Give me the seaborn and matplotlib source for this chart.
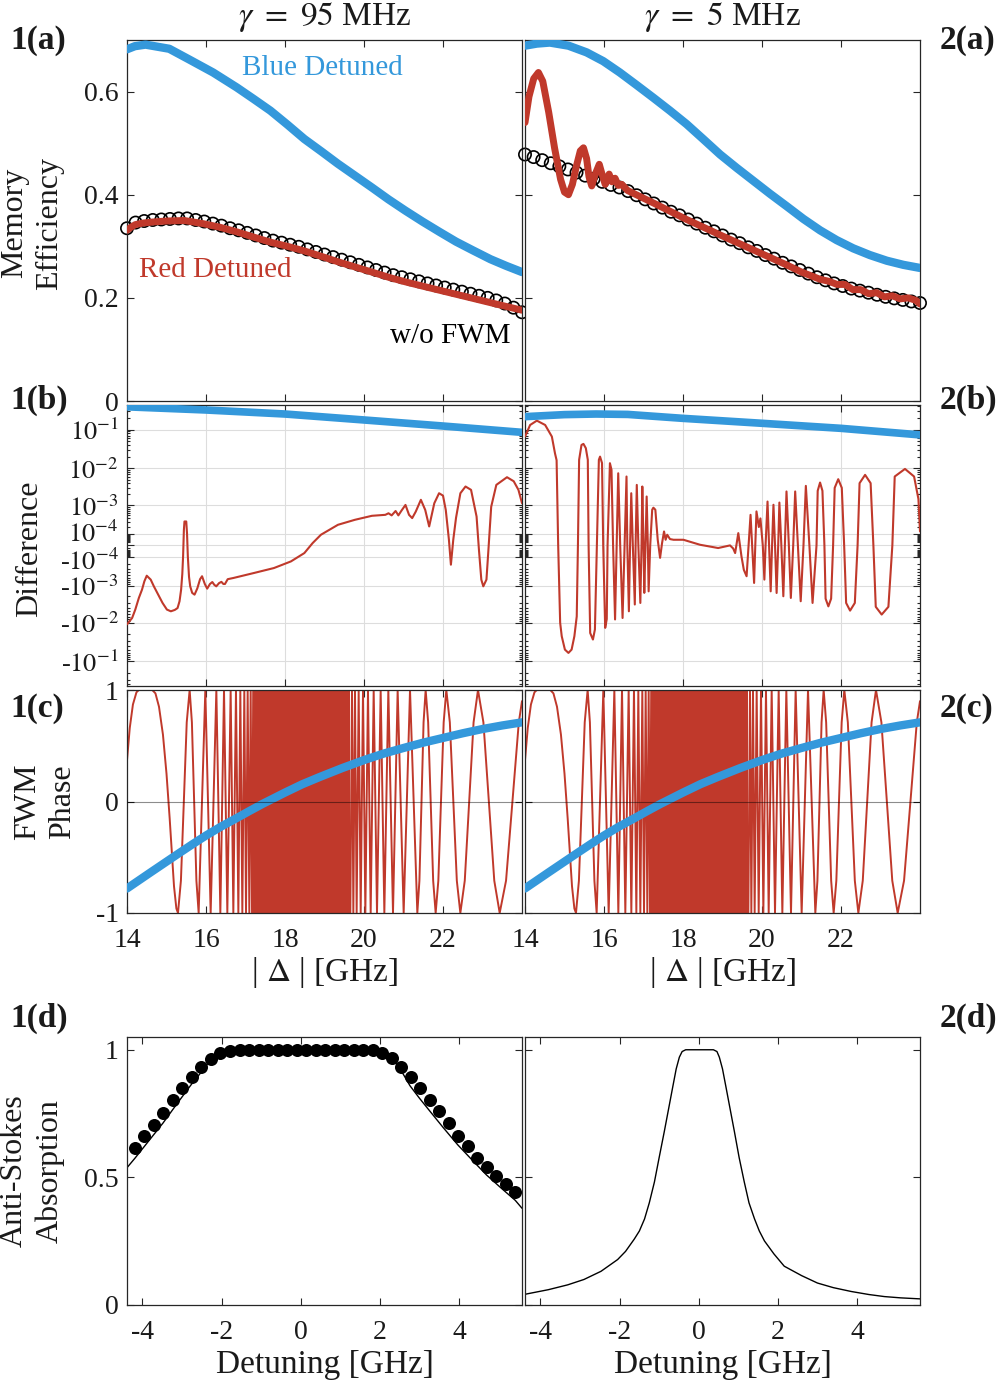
import numpy as np
import matplotlib
matplotlib.use("Agg")
import matplotlib.pyplot as plt
import matplotlib.transforms as mtransforms
import seaborn as sns
from matplotlib.ticker import FixedLocator, FixedFormatter, NullFormatter

# ---------------- data ----------------
BLUE = "#3498DB"
RED = "#C0392B"

# (a) memory efficiency, gamma = 95 MHz
eff95_x = [14.0, 14.2, 14.47, 15.07, 15.58, 16.18, 16.78, 17.2, 17.63, 18.06, 18.49, 18.92, 19.34, 19.77,
           20.20, 20.62, 21.05, 21.48, 21.91, 22.33, 22.76, 23.2, 23.6, 24.0]
eff95_blue = [0.682, 0.688, 0.691, 0.683, 0.662, 0.637, 0.608, 0.586, 0.563, 0.536, 0.508, 0.484, 0.460, 0.437,
              0.414, 0.391, 0.369, 0.348, 0.328, 0.309, 0.292, 0.275, 0.262, 0.250]
eff95_red_x = [14.0, 14.1, 14.21, 14.4, 14.64, 15.0, 15.45, 15.92, 16.35, 16.78, 17.2, 17.63, 18.06, 18.49,
               18.9, 19.34, 19.77, 20.20, 20.62, 21.05, 21.47, 21.90, 22.33, 22.76, 23.4, 24.0]
eff95_red = [0.331, 0.337, 0.342, 0.345, 0.347, 0.349, 0.350, 0.344, 0.337, 0.328, 0.318, 0.308, 0.300, 0.291,
             0.281, 0.270, 0.260, 0.250, 0.240, 0.231, 0.223, 0.215, 0.207, 0.199, 0.187, 0.176]
eff95_nofwm = [0.335, 0.346, 0.349, 0.351, 0.352, 0.353, 0.354, 0.354, 0.351, 0.348, 0.344, 0.340,
               0.335, 0.331, 0.326, 0.321, 0.316, 0.311, 0.307, 0.303, 0.299, 0.294, 0.289, 0.284,
               0.279, 0.274, 0.269, 0.264, 0.259, 0.254, 0.249, 0.244, 0.240, 0.236, 0.232, 0.228,
               0.224, 0.220, 0.216, 0.212, 0.208, 0.204, 0.200, 0.195, 0.189, 0.181, 0.172]

# (a) memory efficiency, gamma = 5 MHz
eff5_x = [14.0, 14.3, 14.63, 15.1, 15.56, 15.98, 16.40, 16.82, 17.25, 17.67, 18.09, 18.51, 18.94, 19.36,
          19.78, 20.2, 20.62, 21.05, 21.47, 21.89, 22.31, 22.73, 23.16, 23.58, 24.0]
eff5_blue = [0.689, 0.693, 0.695, 0.689, 0.676, 0.659, 0.637, 0.613, 0.588, 0.563, 0.537, 0.508, 0.478, 0.452,
             0.427, 0.402, 0.378, 0.353, 0.331, 0.312, 0.296, 0.283, 0.272, 0.264, 0.258]
eff5_red = [(14.00, 0.54), (14.10, 0.59), (14.22, 0.625), (14.34, 0.637), (14.45, 0.62), (14.60, 0.56),
            (14.75, 0.49), (14.90, 0.43), (15.00, 0.405), (15.10, 0.400), (15.20, 0.42), (15.30, 0.455),
            (15.40, 0.485), (15.48, 0.491), (15.56, 0.47), (15.62, 0.435), (15.69, 0.417), (15.78, 0.44),
            (15.88, 0.459), (15.95, 0.44), (16.03, 0.42), (16.13, 0.44), (16.20, 0.425), (16.28, 0.432),
            (16.36, 0.418), (16.45, 0.420), (16.60, 0.408), (17.25, 0.384), (18.09, 0.352), (18.94, 0.322),
            (19.78, 0.293), (20.62, 0.264), (21.00, 0.250), (21.47, 0.236), (21.70, 0.232), (21.90, 0.226),
            (22.10, 0.226), (22.30, 0.216), (22.50, 0.216), (22.70, 0.208), (22.90, 0.210), (23.10, 0.202),
            (23.30, 0.204), (23.50, 0.198), (23.70, 0.200), (23.90, 0.195), (24.00, 0.188)]
eff5_nofwm = [0.478, 0.473, 0.467, 0.461, 0.455, 0.449, 0.443, 0.437, 0.431, 0.425, 0.419, 0.414,
              0.407, 0.399, 0.391, 0.383, 0.375, 0.367, 0.360, 0.352, 0.344, 0.336, 0.329, 0.321,
              0.313, 0.306, 0.298, 0.291, 0.283, 0.276, 0.268, 0.261, 0.254, 0.247, 0.240, 0.234,
              0.228, 0.223, 0.218, 0.214, 0.210, 0.206, 0.202, 0.199, 0.196, 0.193, 0.190]

# (b) difference
diff95_blue = [(14.0, 0.39), (16.0, 0.323), (18.0, 0.254), (20.0, 0.178), (22.0, 0.124), (24.0, 0.085)]
diff5_blue = [(14.0, 0.217), (15.0, 0.245), (15.8, 0.254), (16.6, 0.248), (18.0, 0.196), (20.0, 0.146),
              (22.0, 0.108), (24.0, 0.073)]
diff95_red = [
    (14.00, -1.1e-2), (14.13, -7.5e-3), (14.21, -4.5e-3), (14.30, -2.2e-3), (14.38, -1.3e-3), (14.44, -7.5e-4),
    (14.50, -5.1e-4), (14.60, -6.7e-4), (14.68, -1.05e-3), (14.79, -1.79e-3), (14.90, -3.0e-3), (15.01, -4.5e-3),
    (15.11, -5.0e-3), (15.21, -4.6e-3), (15.28, -4.1e-3), (15.33, -2.7e-3), (15.37, -1.3e-3), (15.40, -4.5e-4),
    (15.42, -9.2e-5), (15.44, 1.5e-4), (15.455, 3.17e-4), (15.50, 3.17e-4), (15.52, 1.0e-4), (15.54, -9.2e-5),
    (15.57, -5.5e-4), (15.60, -1.05e-3), (15.65, -1.6e-3), (15.71, -1.79e-3), (15.78, -1.2e-3), (15.85, -6.5e-4),
    (15.90, -5.3e-4), (15.97, -9.0e-4), (16.03, -1.22e-3), (16.10, -9.0e-4), (16.16, -7.9e-4), (16.21, -9.5e-4),
    (16.26, -1.05e-3), (16.33, -8.5e-4), (16.39, -7.8e-4), (16.44, -9.0e-4), (16.48, -9.0e-4), (16.55, -6.5e-4),
    (16.69, -6.0e-4), (17.21, -4.2e-4), (17.72, -2.86e-4), (18.15, -1.6e-4), (18.49, -5.8e-5), (18.70, 1.5e-5),
    (18.91, 8.9e-5), (19.34, 2.42e-4), (19.77, 3.61e-4), (20.20, 4.85e-4), (20.54, 5.2e-4), (20.62, 5.8e-4),
    (20.70, 5.0e-4), (20.80, 6.8e-4), (20.87, 5.0e-4), (20.95, 7.0e-4), (21.05, 1.02e-3), (21.14, 5.2e-4),
    (21.22, 4.1e-4), (21.31, 6.5e-4), (21.44, 1.42e-3), (21.55, 7.3e-4), (21.65, 2.1e-4), (21.78, 1.14e-3),
    (21.90, 2.15e-3), (22.00, 1.85e-3), (22.07, 7.3e-4), (22.15, 4e-5), (22.20, -2.16e-4), (22.26, 4e-5),
    (22.33, 4.2e-4), (22.44, 2.15e-3), (22.57, 3.26e-3), (22.71, 2.65e-3), (22.85, 4.6e-4), (22.91, -3e-5),
    (22.97, -6.7e-4), (23.02, -1.05e-3), (23.10, -6.7e-4), (23.15, -3e-5), (23.22, 9e-4), (23.35, 3.6e-3),
    (23.62, 5.75e-3), (23.79, 4.5e-3), (23.91, 2.65e-3), (24.00, 1.14e-3)]
diff5_red = [
    (14.00, 6.6e-2), (14.13, 0.132), (14.30, 0.171), (14.51, 0.132), (14.68, 6.6e-2), (14.76, 2.4e-2),
    (14.80, 1.6e-2), (14.84, 0.0), (14.89, -1.0e-2), (14.93, -2.25e-2), (15.01, -5.0e-2), (15.10, -6.1e-2),
    (15.18, -5.0e-2), (15.25, -2.25e-2), (15.31, -6.8e-3), (15.34, 0.0), (15.37, 1.64e-2), (15.43, 4.0e-2),
    (15.48, 4.26e-2), (15.54, 3.3e-2), (15.59, 1.64e-2), (15.61, 0.0), (15.65, -1.85e-2), (15.72, -2.74e-2),
    (15.77, -1.5e-2), (15.82, 0.0), (15.87, 1.64e-2), (15.90, 1.99e-2), (15.95, 1.35e-2), (15.98, 0.0),
    (16.03, -1.36e-2), (16.07, -8.0e-3), (16.09, 0.0), (16.15, 1.34e-2), (16.19, 9.0e-3), (16.23, 0.0),
    (16.28, -8.2e-3), (16.32, 0.0), (16.36, 7.3e-3), (16.41, 0.0), (16.47, -7.5e-3), (16.52, 0.0),
    (16.57, 6.0e-3), (16.59, 0.0), (16.63, -5.0e-3), (16.66, 0.0), (16.69, 2.15e-3), (16.73, 0.0),
    (16.78, -3.3e-3), (16.80, 0.0), (16.83, 3.6e-3), (16.87, 0.0), (16.92, -3.0e-3), (16.95, 0.0),
    (16.97, 3.26e-3), (17.00, 0.0), (17.02, -1.6e-3), (17.05, 0.0), (17.08, 1.75e-3), (17.11, 0.0),
    (17.13, -1.45e-3), (17.17, 0.0), (17.22, 7.4e-4), (17.25, 8.5e-4), (17.30, 7.4e-4), (17.36, 4e-5),
    (17.42, -1.1e-4), (17.47, 1.5e-5), (17.52, 1.3e-4), (17.56, 4e-5), (17.60, 8.9e-5), (17.67, 4.6e-5),
    (17.76, 4.0e-5), (18.01, 4.0e-5), (18.43, 4e-6), (18.89, -1.7e-5), (19.19, 0.0), (19.27, -2e-5),
    (19.32, -5.8e-5), (19.40, 1.08e-4), (19.48, -9.2e-5), (19.54, -3.3e-4), (19.61, -5.3e-4), (19.66, 0.0),
    (19.71, 5.2e-4), (19.75, 0.0), (19.80, -8.4e-4), (19.83, 0.0), (19.86, 6.6e-4), (19.92, 2e-4),
    (19.96, 4e-4), (20.02, 0.0), (20.06, -6.7e-4), (20.09, 0.0), (20.14, 1.27e-3), (20.18, 0.0),
    (20.22, -1.45e-3), (20.255, 0.0), (20.29, 1.03e-3), (20.33, 0.0), (20.37, -1.61e-3), (20.41, 0.0),
    (20.44, 1.19e-3), (20.49, 0.0), (20.54, -1.98e-3), (20.58, 0.0), (20.62, 2.4e-3), (20.68, 0.0),
    (20.73, -2.2e-3), (20.79, 0.0), (20.84, 2.4e-3), (20.91, 0.0), (20.98, -2.7e-3), (21.05, 0.0),
    (21.11, 3.39e-3), (21.20, 0.0), (21.28, -3.0e-3), (21.38, 0.0), (21.41, 2.5e-3), (21.47, 4.16e-3),
    (21.53, 2.5e-3), (21.58, 0.0), (21.61, -2.3e-3), (21.68, -3.7e-3), (21.75, -2.3e-3), (21.80, 0.0),
    (21.84, 3.0e-3), (21.93, 5.1e-3), (22.02, 3.0e-3), (22.08, 0.0), (22.13, -3.0e-3), (22.23, -4.8e-3),
    (22.35, -3.0e-3), (22.42, 0.0), (22.47, 4.0e-3), (22.61, 6.63e-3), (22.75, 4.0e-3), (22.82, 0.0),
    (22.88, -3.8e-3), (23.03, -6.1e-3), (23.20, -3.8e-3), (23.30, 0.0), (23.36, 6.0e-3), (23.62, 9.5e-3),
    (23.85, 6.0e-3), (23.96, 1.5e-3), (24.00, 1.3e-4)]

# (c) FWM phase (same for both columns)
phase_blue = [(14.0, -0.78), (14.6, -0.635), (15.29, -0.47), (15.65, -0.385), (16.0, -0.305), (16.38, -0.225),
              (16.77, -0.15), (17.1, -0.085), (17.44, -0.02), (17.72, 0.03), (18.0, 0.08), (18.44, 0.155),
              (18.88, 0.22), (19.45, 0.30), (20.02, 0.374), (20.5, 0.43), (21.0, 0.48), (21.5, 0.528),
              (22.0, 0.57), (22.5, 0.612), (23.0, 0.65), (23.5, 0.682), (24.0, 0.71)]
phase_red = [
    (14.00, 0.37), (14.07, 0.66), (14.15, 0.87), (14.24, 0.98), (14.30, 1.0), (14.64, 1.0), (14.72, 0.97),
    (14.81, 0.85), (14.91, 0.60), (15.00, 0.25), (15.08, -0.15), (15.19, -0.76), (15.25, -0.96), (15.291, -1.0),
    (15.365, -0.71), (15.439, 0.0), (15.512, 0.71), (15.586, 1.0),
    (15.643, 0.71), (15.700, 0.0), (15.757, -0.71), (15.814, -1.0),
    (15.983, 1.0), (16.118, -1.0), (16.262, 1.0), (16.363, -1.0), (16.456, 1.0), (16.540, -1.0),
    (16.624, 1.0), (16.692, -1.0), (16.759, 1.0), (16.819, -1.0), (16.869, 1.0), (16.920, -1.0),
    (16.970, 1.0), (17.013, -1.0), (17.055, 1.0), (17.097, -1.0), (17.131, 1.0), (17.165, -1.0),
    (17.195, 1.0), (17.222, -1.0),
    (19.654, -1.0), (19.696, 1.0), (19.730, -1.0), (19.772, 1.0), (19.814, -1.0), (19.865, 1.0),
    (19.916, -1.0), (19.975, 1.0), (20.034, -1.0), (20.101, 1.0), (20.169, -1.0), (20.245, 1.0),
    (20.329, -1.0), (20.422, 1.0), (20.515, -1.0), (20.616, 1.0), (20.734, -1.0), (20.852, 1.0),
    (21.004, -1.0), (21.165, 1.0), (21.350, -1.0),
    (21.403, -0.71), (21.456, 0.0), (21.508, 0.71), (21.561, 1.0),
    (21.624, 0.71), (21.688, 0.0), (21.751, -0.71), (21.814, -1.0),
    (21.882, -0.71), (21.949, 0.0), (22.017, 0.71), (22.084, 1.0),
    (22.173, 0.71), (22.262, 0.0), (22.350, -0.71), (22.439, -1.0),
    (22.551, -0.71), (22.663, 0.0), (22.774, 0.71), (22.886, 1.0),
    (23.023, 0.71), (23.161, 0.0), (23.298, -0.71), (23.435, -1.0),
    (23.596, -0.71), (23.758, 0.0), (23.919, 0.71), (24.0, 0.90)]
phase_dense_band = [17.20, 19.65]   # region where the red oscillation is unresolved

# (d) anti-Stokes absorption
abs95_line = [(-4.39, 0.538), (-4.19, 0.575), (-3.83, 0.645), (-3.48, 0.713), (-3.12, 0.79), (-2.76, 0.865),
              (-2.5, 0.915), (-2.29, 0.958), (-2.15, 0.98), (-2.05, 0.993), (-1.85, 1.0), (1.85, 1.0),
              (2.08, 0.993), (2.2, 0.982), (2.33, 0.964), (2.55, 0.915), (2.76, 0.859), (3.0, 0.81),
              (3.26, 0.76), (3.6, 0.695), (3.97, 0.627), (4.33, 0.568), (4.69, 0.51), (5.05, 0.46),
              (5.42, 0.41), (5.59, 0.379)]
abs95_dots = [0.617, 0.661, 0.707, 0.753, 0.802, 0.849, 0.892, 0.934, 0.964, 0.987, 0.997,
              1.0, 1.0, 1.0, 1.0, 1.0, 1.0, 1.0, 1.0, 1.0, 1.0, 1.0, 1.0, 1.0, 1.0, 1.0,
              0.987, 0.968, 0.934, 0.894, 0.852, 0.803, 0.760, 0.713, 0.664, 0.621, 0.577, 0.542,
              0.506, 0.473, 0.443]
abs5_line = [(-4.39, 0.042), (-3.8, 0.06), (-3.31, 0.079), (-2.9, 0.10), (-2.47, 0.132), (-2.05, 0.178),
             (-1.85, 0.21), (-1.63, 0.258), (-1.5, 0.29), (-1.37, 0.337), (-1.25, 0.40), (-1.12, 0.482),
             (-1.0, 0.578), (-0.87, 0.68), (-0.76, 0.77), (-0.66, 0.852), (-0.57, 0.925), (-0.49, 0.971),
             (-0.42, 0.993), (-0.33, 1.0), (0.37, 1.0), (0.46, 0.993), (0.52, 0.971), (0.60, 0.925),
             (0.69, 0.852), (0.79, 0.77), (0.90, 0.68), (1.02, 0.578), (1.15, 0.482), (1.27, 0.40),
             (1.41, 0.337), (1.53, 0.29), (1.66, 0.251), (1.9, 0.20), (2.16, 0.152), (2.6, 0.115),
             (3.0, 0.086), (3.4, 0.068), (3.85, 0.053), (4.3, 0.041), (4.69, 0.033), (5.1, 0.028),
             (5.59, 0.024)]

phase_xticks = [14, 16, 18, 20, 22]
det_xticks = [-4, -2, 0, 2, 4]

# ---------------- style ----------------
sns.set_theme(style="white")
plt.rcParams['font.family'] = ['Liberation Serif', 'DejaVu Serif']
plt.rcParams['mathtext.fontset'] = 'stix'
plt.rcParams['axes.unicode_minus'] = False
TXT = '#1a1a1a'
EDGE = '#262626'
TICKSIZE = 20

W, H = 997, 1384
fig = plt.figure(figsize=(W / 100, H / 100), dpi=100)
fig.patch.set_facecolor('white')


def px_axes(x0, y0, x1, y1):
    return fig.add_axes([x0 / W, 1 - y1 / H, (x1 - x0) / W, (y1 - y0) / H])


def ftext(x, y, s, **kw):
    fig.text(x / W, 1 - y / H, s, color=kw.pop('color', TXT), **kw)


def style(ax, xlim, ylim):
    ax.set_xlim(*xlim)
    ax.set_ylim(*ylim)
    ax.set_facecolor('white')
    for s in ax.spines.values():
        s.set_visible(True)
        s.set_color(EDGE)
        s.set_linewidth(0.9)
    ax.tick_params(which='both', direction='in', top=True, right=True, bottom=True, left=True,
                   color=EDGE, labelcolor=TXT, labelsize=TICKSIZE, width=0.8)
    ax.tick_params(which='major', length=5, pad=6)
    ax.tick_params(which='minor', length=2.5)
    ax.set_xlabel('')
    ax.set_ylabel('')


def xy(pairs):
    return np.array([p[0] for p in pairs]), np.array([p[1] for p in pairs])


def line(ax, x, y, color, lw, z=3):
    sns.lineplot(x=np.asarray(x), y=np.asarray(y), ax=ax, color=color, linewidth=lw,
                 estimator=None, sort=False, zorder=z)


COLS = [(127, 522), (525, 920)]
ROW_A = (40, 401)
ROW_B = (405, 686)
ROW_C = (690, 913)
ROW_D = (1037, 1305)

C0 = 1e-4


def fwd(v):
    v = np.asarray(v, dtype=float)
    return np.sign(v) * np.log10(1 + np.abs(v) / C0)


def inv(v):
    v = np.asarray(v, dtype=float)
    return np.sign(v) * C0 * (10 ** np.abs(v) - 1)


btick_vals = [-1e-1, -1e-2, -1e-3, -1e-4, 0, 1e-4, 1e-3, 1e-2, 1e-1]
btick_labels = ['-$10^{-1}$', '-$10^{-2}$', '-$10^{-3}$', '-$10^{-4}$', '',
                '$10^{-4}$', '$10^{-3}$', '$10^{-2}$', '$10^{-1}$']
bminor = []
for k in range(-5, 0):
    for m in range(2, 10):
        v = m * 10.0 ** k
        if v < 0.43:
            bminor += [v, -v]

circ_x = np.linspace(14, 24, 47)
dots_x = np.linspace(-4.19, 5.42, 41)

for ci, (x0, x1) in enumerate(COLS):
    # ---- (a)
    ax = px_axes(x0, ROW_A[0], x1, ROW_A[1])
    if ci == 0:
        nofwm, blue_x, blue_y = eff95_nofwm, eff95_x, eff95_blue
        rx, ry = np.array(eff95_red_x), np.array(eff95_red)
    else:
        nofwm, blue_x, blue_y = eff5_nofwm, eff5_x, eff5_blue
        rx, ry = xy(eff5_red)
    sns.scatterplot(x=circ_x, y=np.array(nofwm), ax=ax, marker='o', s=78, facecolor='none',
                    edgecolor='black', linewidth=1.2, zorder=2, clip_on=False)
    line(ax, rx, ry, RED, 5.0)
    line(ax, blue_x, blue_y, BLUE, 6.0)
    style(ax, (14, 24), (0, 0.70))
    ax.set_xticks([16, 18, 20, 22])
    ax.set_xticklabels([])
    ax.set_yticks([0, 0.2, 0.4, 0.6])
    ax.set_yticklabels(['0', '0.2', '0.4', '0.6'] if ci == 0 else [])
    if ci == 0:
        ax.text(18.94, 0.646, 'Blue Detuned', color=BLUE, fontsize=21, ha='center', va='center')
        ax.text(16.23, 0.254, 'Red Detuned', color=RED, fontsize=21, ha='center', va='center')
        ax.text(22.18, 0.127, 'w/o FWM', color='black', fontsize=21, ha='center', va='center')

    # ---- (b)
    ax = px_axes(x0, ROW_B[0], x1, ROW_B[1])
    ax.set_yscale('function', functions=(fwd, inv))
    bx, by = xy(diff95_blue if ci == 0 else diff5_blue)
    rx, ry = xy(diff95_red if ci == 0 else diff5_red)
    line(ax, rx, ry, RED, 1.5)
    line(ax, bx, by, BLUE, 5.5)
    style(ax, (14, 24), (-0.44, 0.435))
    ax.yaxis.set_major_locator(FixedLocator(btick_vals))
    ax.yaxis.set_major_formatter(FixedFormatter(btick_labels if ci == 0 else [''] * len(btick_vals)))
    ax.yaxis.set_minor_locator(FixedLocator(bminor))
    ax.yaxis.set_minor_formatter(NullFormatter())
    ax.tick_params(axis='y', labelsize=19)
    ax.set_xticks([16, 18, 20, 22])
    ax.set_xticklabels([])
    ax.grid(True, which='major', color='#dddddd', linewidth=0.8, zorder=0)
    ax.set_axisbelow(True)
    if ci == 0:
        # nudge the two labels nearest zero apart slightly, as in the reference
        fig.canvas.draw()
        for lab in ax.get_yticklabels():
            t = lab.get_text()
            if t == '$10^{-4}$':
                lab.set_transform(lab.get_transform() + mtransforms.ScaledTranslation(0, 2 / 72, fig.dpi_scale_trans))
            elif t == '-$10^{-4}$':
                lab.set_transform(lab.get_transform() + mtransforms.ScaledTranslation(0, -2 / 72, fig.dpi_scale_trans))

    # ---- (c)
    ax = px_axes(x0, ROW_C[0], x1, ROW_C[1])
    px_, py_ = xy(phase_red)
    ax.fill_between(phase_dense_band, -1, 1, color=RED, linewidth=0, zorder=2)
    line(ax, px_, py_, RED, 1.4, z=2)
    bx, by = xy(phase_blue)
    line(ax, bx, by, BLUE, 6.0, z=3)
    ax.axhline(0, color='black', alpha=0.45, linewidth=0.8, zorder=5)
    style(ax, (14, 24), (-1, 1))
    ax.set_xticks(phase_xticks)
    ax.set_xticklabels([str(t) for t in phase_xticks])
    ax.tick_params(axis='x', pad=11)
    ax.set_yticks([-1, 0, 1])
    ax.set_yticklabels(['-1', '0', '1'] if ci == 0 else [])

    # ---- (d)
    ax = px_axes(x0, ROW_D[0], x1, ROW_D[1])
    if ci == 0:
        lx, ly = xy(abs95_line)
        sns.scatterplot(x=dots_x, y=np.array(abs95_dots), ax=ax, marker='o', s=88, color='black',
                        edgecolor='black', linewidth=0, zorder=3, clip_on=False)
    else:
        lx, ly = xy(abs5_line)
    line(ax, lx, ly, 'black', 1.0, z=2)
    style(ax, (-4.39, 5.59), (0, 1.05))
    ax.set_xticks(det_xticks)
    ax.set_xticklabels([str(t) for t in det_xticks])
    ax.tick_params(axis='x', pad=11)
    ax.set_yticks([0, 0.5, 1])
    ax.set_yticklabels(['0', '0.5', '1'] if ci == 0 else [])

    cx = (x0 + x1) / 2
    ftext(cx, 972, '| $\\Delta$ | [GHz]', fontsize=24, ha='center', va='center')
    ftext(cx, 1365, 'Detuning [GHz]', fontsize=24, ha='center', va='center')

# titles
ftext(324.5, 17, r'$\gamma\ =\ 95$ MHz', fontsize=24, ha='center', va='center')
ftext(722.5, 17, r'$\gamma\ =\ 5$ MHz', fontsize=24, ha='center', va='center')

# y labels
ftext(32, 223, 'Memory\nEfficiency', fontsize=23, rotation=90, ha='center', va='center',
      multialignment='center', linespacing=1.3)
ftext(30, 549, 'Difference', fontsize=23, rotation=90, ha='center', va='center')
ftext(45, 802, 'FWM\nPhase', fontsize=23, rotation=90, ha='center', va='center',
      multialignment='center', linespacing=1.3)
ftext(32, 1171, 'Anti-Stokes\nAbsorption', fontsize=23, rotation=90, ha='center', va='center',
      multialignment='center', linespacing=1.3)

# panel labels
for lab, y in [('(a)', 40), ('(b)', 400), ('(c)', 708), ('(d)', 1018)]:
    ftext(10, y, '1' + lab, fontsize=24, fontweight='bold', ha='left', va='center')
    ftext(940, y, '2' + lab, fontsize=24, fontweight='bold', ha='left', va='center')

fig.savefig('out.png', dpi=100, facecolor='white')
